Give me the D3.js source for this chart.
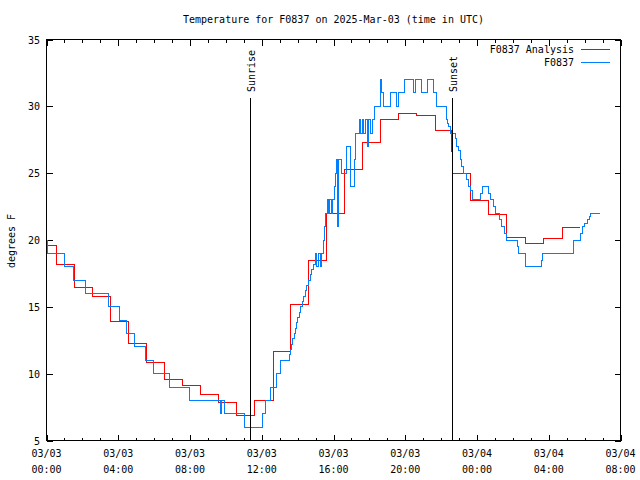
<!DOCTYPE html>
<html><head><meta charset="utf-8">
<script src="https://cdn.jsdelivr.net/npm/d3@7"></script>
<style>
body{margin:0;background:#fff}
text{font-family:"DejaVu Sans Mono","Liberation Mono",monospace;font-size:10px;fill:#000}
</style>
</head><body>
<svg id="chart" width="640" height="480"></svg>
<script>
// ---- data ----
const chartTitle = "Temperature for F0837 on 2025-Mar-03 (time in UTC)";
const yLabel = "degrees F";
const seriesNames = ["F0837 Analysis", "F0837"];
const yTickValues = [5, 10, 15, 20, 25, 30, 35];
const xMajorHours = [0, 4, 8, 12, 16, 20, 24, 28, 32];
// hours since 2025-03-03 00:00 UTC (step changes)
const analysisHours = [0, 0.55, 1.55, 2.55, 3.55, 4.55, 5.55, 6.58, 7.58, 8.58, 9.59, 10.59, 11.62, 12.64, 13.62, 14.63, 15.62, 16.64, 17.6, 18.63, 19.64, 20.65, 21.67, 22.6, 22.66, 23.66, 24.65, 25.67, 26.7, 27.7, 28.74, 29.77];
const analysisTemps = [19.6, 18.2, 16.45, 15.8, 13.9, 12.25, 10.85, 9.6, 9.1, 8.45, 7.85, 6.85, 8.0, 11.67, 15.2, 18.5, 22.0, 25.25, 27.3, 29.05, 29.5, 29.3, 28.2, 26.6, 25.0, 22.95, 21.9, 20.2, 19.75, 20.1, 20.9, 20.9];
const obsHours = [0, 0.08, 1.0, 1.52, 2.18, 3.45, 4.05, 4.45, 4.88, 5.5, 5.98, 6.83, 7.99, 9.7, 9.78, 9.9, 11.06, 12.02, 12.2, 12.5, 12.85, 13.05,
  13.53, 13.6, 13.67, 13.74, 13.81, 13.88, 13.95, 14.02, 14.09, 14.16, 14.25, 14.34, 14.43, 14.52, 14.61, 14.7, 14.79, 14.88, 14.97,
  15.05, 15.15, 15.25, 15.35, 15.45, 15.5, 15.58, 15.65, 15.72, 15.8, 15.88, 15.95, 16.05, 16.12, 16.18, 16.25, 16.3, 16.45, 16.7, 16.95, 17.15, 17.25, 17.45, 17.52, 17.62, 17.7, 17.8, 17.88, 17.95, 18.05, 18.15, 18.28, 18.6, 18.68, 18.8, 19.15, 19.5, 19.65, 19.98, 20.45, 20.55, 20.9, 21.22, 21.55, 21.75,
  22.28, 22.36, 22.43, 22.51, 22.79, 22.84, 22.97, 23.06, 23.16, 23.25, 23.44, 23.53, 23.66, 23.75, 24.22, 24.28, 24.65, 24.74, 24.93, 25.02, 25.26, 25.34, 25.52, 25.62, 26.27, 26.32, 26.69, 27.57, 27.63, 29.39, 29.77, 29.86, 30.0, 30.14, 30.25, 30.33, 30.88];
const obsTemps = [20, 19, 18, 17, 16, 15, 14, 13, 12, 11, 10, 9, 8, 7, 8, 7, 6, 7, 8, 9, 10, 11,
  11.4, 11.8, 12.2, 12.6, 13, 13.4, 13.8, 14.2, 14.6, 15, 15.4, 15.8, 16.2, 16.6, 17, 17.4, 17.8, 18.2, 19,
  18, 19, 18, 19, 20, 21, 22, 23, 22, 23, 22, 23, 24, 25, 26, 21, 26, 25, 27, 24, 26, 28, 29, 28, 29, 28, 29, 27, 29, 28, 29, 30, 32, 31, 30, 31, 30, 31, 32, 31, 32, 31, 32, 31, 30,
  29, 28.7, 28.5, 28, 27.6, 27, 26.7, 26, 25.5, 25, 24.5, 24, 23.7, 23, 23.5, 24, 23.5, 23, 22.5, 22, 21.5, 21, 20.5, 20, 19.5, 19, 18, 18.5, 19, 20, 20.5, 21, 21.25, 21.5, 21.75, 22, 22];
const sunLabels = ["Sunrise", "Sunset"];
const sunHours = [11.37, 22.62];
const seriesColors = ["#ff0000", "#0080ff"];

// ---- chart ----
const svg = d3.select("#chart");
const start = Date.UTC(2025, 2, 3, 0, 0);
const toDate = h => new Date(start + h * 3600e3);
const L = 46.5, R = 620.5, T = 39.5, B = 440.5;
const x = d3.scaleUtc().domain([toDate(0), toDate(32)]).range([L, R]);
const y = d3.scaleLinear().domain([5, 35]).range([B, T]);

svg.append("rect").attr("width", 640).attr("height", 480).attr("fill", "#fff");

const g = svg.append("g").attr("shape-rendering", "crispEdges");

// x ticks: minor each hour, major each 4 hours, bottom and top (inward)
const hourTicks = d3.range(0, 33);
hourTicks.forEach(h => {
  const major = h % 4 === 0;
  const len = major ? 6 : 3;
  const px = Math.round(x(toDate(h))) + 0.5;
  g.append("line").attr("x1", px).attr("x2", px).attr("y1", B).attr("y2", B - len).attr("stroke", "#000");
  g.append("line").attr("x1", px).attr("x2", px).attr("y1", T).attr("y2", T + len).attr("stroke", "#000");
});
// y ticks left and right
yTickValues.forEach(v => {
  const py = Math.round(y(v)) + 0.5;
  g.append("line").attr("x1", L).attr("x2", L + 6).attr("y1", py).attr("y2", py).attr("stroke", "#000");
  g.append("line").attr("x1", R).attr("x2", R - 6).attr("y1", py).attr("y2", py).attr("stroke", "#000");
  svg.append("text").attr("x", 40).attr("y", py + 3.5).attr("text-anchor", "end").text(v);
});

// x tick labels
const fmtDay = d3.utcFormat("%m/%d"), fmtTime = d3.utcFormat("%H:%M");
xMajorHours.forEach(h => {
  const d = toDate(h);
  const t = svg.append("text").attr("text-anchor", "middle");
  t.append("tspan").attr("x", x(d)).attr("y", 457).text(fmtDay(d));
  t.append("tspan").attr("x", x(d)).attr("y", 473).text(fmtTime(d));
});

// title & y label
svg.append("text").attr("x", (L + R) / 2).attr("y", 23).attr("text-anchor", "middle").text(chartTitle);
svg.append("text").attr("transform", "translate(15,241) rotate(-90)").attr("text-anchor", "middle").text(yLabel);

// series
const line = d3.line().x(d => x(toDate(d[0]))).y(d => y(d[1])).curve(d3.curveStepAfter);
const analysis = analysisHours.map((h, i) => [h, analysisTemps[i]]);
const obs = obsHours.map((h, i) => [h, obsTemps[i]]);
g.append("path").attr("d", line(analysis)).attr("fill", "none").attr("stroke", seriesColors[0]).attr("stroke-width", 1);
g.append("path").attr("d", line(obs)).attr("fill", "none").attr("stroke", seriesColors[1]).attr("stroke-width", 1);

// sunrise / sunset
sunHours.forEach((h, i) => {
  const px = Math.round(x(toDate(h))) + 0.5;
  g.append("line").attr("x1", px).attr("x2", px).attr("y1", 98).attr("y2", B).attr("stroke", "#000");
  svg.append("text").attr("transform", `translate(${px + 4.5},92) rotate(-90)`).attr("text-anchor", "start").text(sunLabels[i]);
});

// legend
seriesNames.forEach((name, i) => {
  const ly = 49.5 + i * 13;
  svg.append("text").attr("x", 574).attr("y", ly + 3.5).attr("text-anchor", "end").text(name);
  g.append("line").attr("x1", 581).attr("x2", 610).attr("y1", ly).attr("y2", ly).attr("stroke", seriesColors[i]);
});

// border
g.append("rect").attr("x", L).attr("y", T).attr("width", R - L).attr("height", B - T).attr("fill", "none").attr("stroke", "#000");
</script>
</body></html>
